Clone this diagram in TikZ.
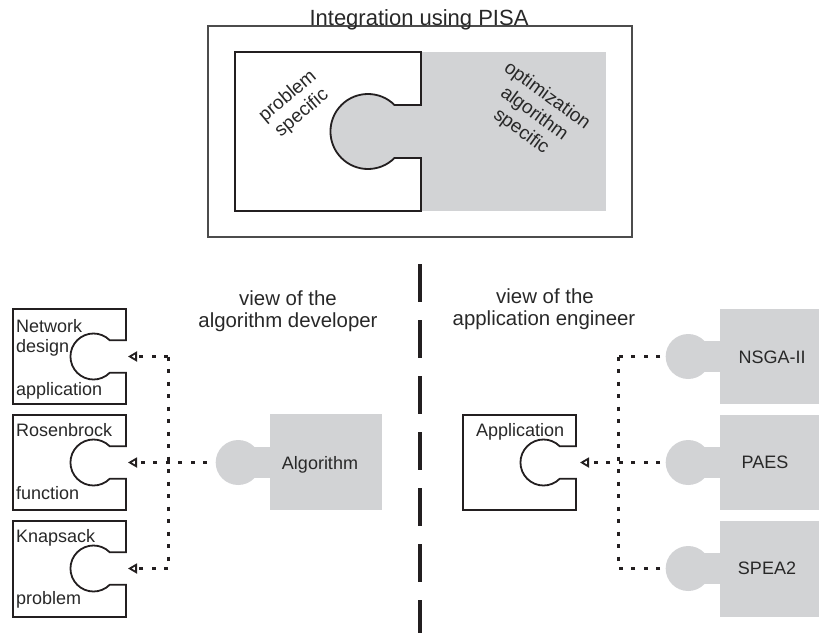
\documentclass[tikz,border=0pt]{standalone}
\usepackage{fontspec}
\setmainfont{Liberation Sans}
\usetikzlibrary{arrows.meta}
\definecolor{pgray}{RGB}{210,211,213}
\definecolor{ink}{RGB}{35,31,32}
\definecolor{txt}{RGB}{40,40,40}

\newcommand\pznotch[6]{% x1 y1 x2 y2 cy r
  \pgfmathsetmacro\nd{#6*0.70711}
  \draw[piece] (#1,#2) -- (#3,#2) -- (#3,{#5-\nd}) -- ({#3-\nd},{#5-\nd})
    arc[start angle=45,end angle=315,radius=#6pt] -- (#3,{#5+\nd}) -- (#3,#4) -- (#1,#4) -- cycle;}
\newcommand\pzknob[6]{% x1 y1 x2 y2 cy r
  \pgfmathsetmacro\kd{#6*0.70711}
  \fill[pgray] (#1,#2) rectangle (#3,#4);
  \fill[pgray] ({#1-2*\kd},{#5-\kd}) rectangle ({#1+0.5},{#5+\kd});
  \fill[pgray] ({#1-2*\kd},#5) circle[radius=#6pt];}

\tikzset{
  piece/.style={draw=ink, line width=1.8pt, fill=white, line join=miter},
  frame/.style={draw=black!70, line width=1.3pt},
  dotline/.style={draw=ink, line width=3pt, dash pattern=on 4pt off 8.5pt},
  arr/.style={-{Triangle[open,length=9pt,width=10pt,line width=1.8pt]}},
  divider/.style={draw=ink, line width=4pt, dash pattern=on 38pt off 18pt},
  plbl/.style={font=\fontsize{18}{22}\selectfont, text=txt, inner sep=0pt},
  vlbl/.style={font=\fontsize{20.4}{24}\selectfont, text=txt, inner sep=0pt, anchor=base},
  rlbl/.style={font=\fontsize{19}{22}\selectfont, text=txt, inner sep=0pt, align=center},
}

\begin{document}
\begin{tikzpicture}[x=1pt,y=-1pt]
\useasboundingbox (0,0) rectangle (819,632);

% ---- top: integration using PISA
\draw[frame] (208,26) rectangle (632,237);
\pzknob{421}{52}{606}{211}{131.5}{37.5}
\pznotch{235}{52}{421}{211}{131.5}{37.5}
\node[font=\fontsize{22}{26}\selectfont, text=txt, inner sep=0pt, anchor=base] (title) at (419,25) {Integration using PISA};
\node[rlbl, rotate=40] (probspec) at (295,105) {problem\\specific};
\node[rlbl, rotate=-36] (optspec) at (534,114) {optimization\\algorithm\\specific};

% ---- divider
\coordinate (dT) at (420,264);
\coordinate (dB) at (420,634);
\draw[divider] (dT) -- (dB);

% ---- view labels
\node[vlbl] (va1) at (288,305) {view of the};
\node[vlbl] (va2) at (288,327) {algorithm developer};
\node[vlbl] (vb1) at (545,303) {view of the};
\node[vlbl] (vb2) at (544,325) {application engineer};

% ---- left: problem pieces
\pznotch{13}{309}{126}{404}{356.5}{23}
\pznotch{13}{415}{126}{510}{462.5}{23}
\pznotch{13}{521}{126}{617}{568.5}{23}
\node[plbl, anchor=base west] (nd1) at (16,332) {Network};
\node[plbl, anchor=base west] (nd2) at (16,352) {design};
\node[plbl, anchor=base west] (nd3) at (16,395) {application};
\node[plbl, anchor=base west] (rb1) at (16,436) {Rosenbrock};
\node[plbl, anchor=base west] (rb2) at (16,499) {function};
\node[plbl, anchor=base west] (kp1) at (16,542) {Knapsack};
\node[plbl, anchor=base west] (kp2) at (16,604) {problem};

% algorithm piece
\pzknob{270}{414}{382}{510}{462.5}{22.5}
\node[plbl, anchor=base] (alg) at (320,469) {Algorithm};

% left connectors
\coordinate (ndM) at (128,356.5);
\coordinate (rbM) at (128,462.5);
\coordinate (kpM) at (128,568.5);
\coordinate (algK) at (207,462.5);
\coordinate (vlT) at (168,356.5);
\coordinate (vlB) at (168,568.5);
\draw[dotline] (vlT) -- (vlB);
\draw[dotline,arr] (vlT) -- (ndM);
\draw[dotline,arr] (vlB) -- (kpM);
\draw[dotline,arr] (algK) -- (rbM);

% ---- right: application and algorithms
\pznotch{463}{415}{576}{510}{462.5}{23}
\node[plbl, anchor=base west] (app) at (476,436) {Application};

\pzknob{720}{309}{820}{404}{356.5}{22.5}
\pzknob{720}{415}{820}{510}{462.5}{22.5}
\pzknob{720}{521}{820}{617}{568.5}{22.5}
\node[plbl, anchor=base] (nsga) at (772,363) {NSGA-II};
\node[plbl, anchor=base] (paes) at (765,468) {PAES};
\node[plbl, anchor=base] (spea) at (767,574) {SPEA2};

\coordinate (appM) at (580,462.5);
\coordinate (nsK) at (660,356.5);
\coordinate (paK) at (660,462.5);
\coordinate (spK) at (660,568.5);
\coordinate (vrT) at (618,356.5);
\coordinate (vrB) at (618,568.5);
\draw[dotline] (vrT) -- (vrB);
\draw[dotline] (nsK) -- (vrT);
\draw[dotline] (spK) -- (vrB);
\draw[dotline,arr] (paK) -- (appM);
\end{tikzpicture}
\end{document}
